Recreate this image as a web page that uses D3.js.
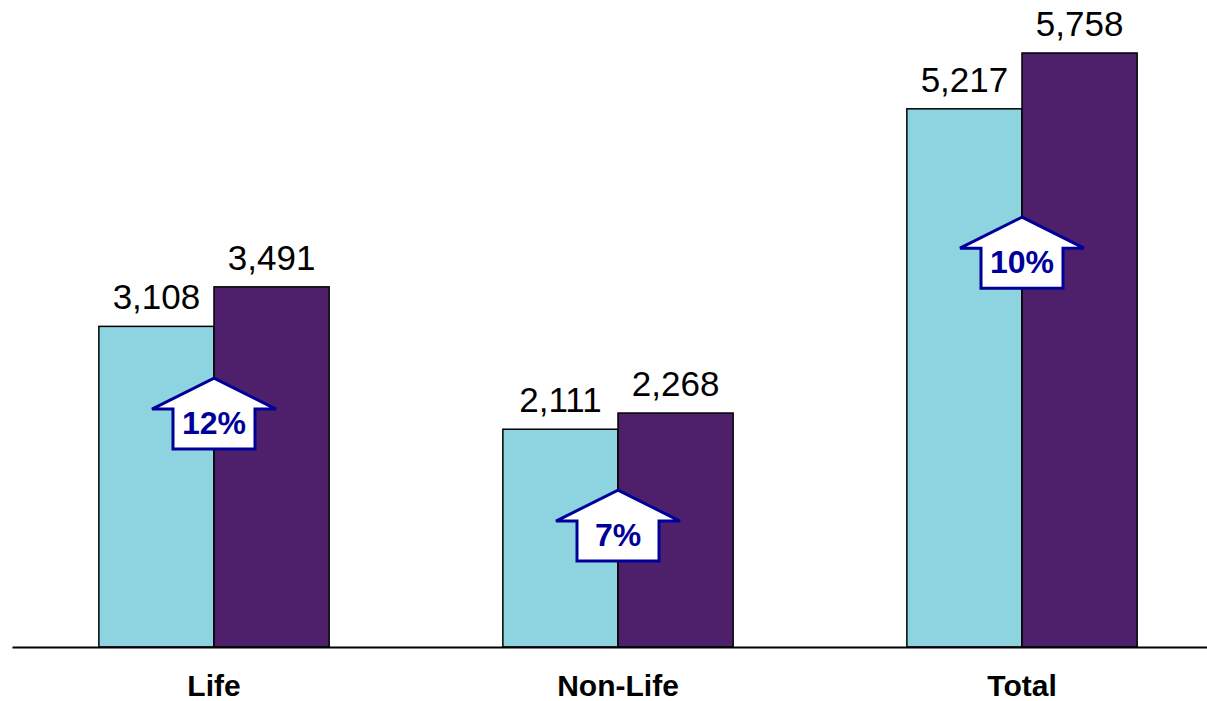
<!DOCTYPE html>
<html>
<head>
<meta charset="utf-8">
<script src="https://cdn.jsdelivr.net/npm/d3@7"></script>
<style>
  body { margin: 0; background: #fff; }
  svg { display: block; font-family: Arial, "Liberation Sans", sans-serif; }
</style>
</head>
<body>
<svg id="chart"></svg>
<script>
const width = 1207;
const height = 701;

const categories = ["Life", "Non-Life", "Total"];
const prevValues = [3108, 2111, 5217];
const currValues = [3491, 2268, 5758];
const growthLabels = ["12%", "7%", "10%"];
// where the growth arrow tip sits, in value units
const arrowAt = [2607, 1521, 4167];

const baseline = 647;
const light = "#8DD3E0";
const dark = "#4E206C";
const navy = "#000099";

const svg = d3.select("#chart")
    .attr("width", width)
    .attr("height", height)
    .attr("viewBox", [0, 0, width, height]);

const x = d3.scaleBand(categories, [12, 1224])
    .paddingInner(0.43)
    .paddingOuter(0.215);

const y = d3.scaleLinear([0, 5758], [baseline, 53]);

const half = x.bandwidth() / 2;

const groups = svg.append("g").attr("id", "bars")
  .selectAll("g")
  .data(categories)
  .join("g")
    .attr("transform", d => `translate(${x(d)},0)`);

// previous year bars
groups.append("rect")
    .attr("x", 0)
    .attr("y", (d, i) => y(prevValues[i]))
    .attr("width", half)
    .attr("height", (d, i) => baseline - y(prevValues[i]))
    .attr("fill", light)
    .attr("stroke", "#000")
    .attr("stroke-width", 1.5);

// current year bars
groups.append("rect")
    .attr("x", half)
    .attr("y", (d, i) => y(currValues[i]))
    .attr("width", half)
    .attr("height", (d, i) => baseline - y(currValues[i]))
    .attr("fill", dark)
    .attr("stroke", "#000")
    .attr("stroke-width", 1.5);

const fmt = d3.format(",");

groups.append("text")
    .attr("x", half / 2)
    .attr("y", (d, i) => y(prevValues[i]) - 17)
    .attr("text-anchor", "middle")
    .attr("font-size", "35px")
    .text((d, i) => fmt(prevValues[i]));

groups.append("text")
    .attr("x", half * 1.5)
    .attr("y", (d, i) => y(currValues[i]) - 17)
    .attr("text-anchor", "middle")
    .attr("font-size", "35px")
    .text((d, i) => fmt(currValues[i]));

// growth arrows
const headH = 31, headW = 62, shaftW = 41, totalH = 71;
const arrowPath = `M0,0 L${headW},${headH} L${shaftW},${headH} L${shaftW},${totalH}
  L${-shaftW},${totalH} L${-shaftW},${headH} L${-headW},${headH} Z`;

const arrows = groups.append("g")
    .attr("transform", (d, i) => `translate(${half},${y(arrowAt[i])})`);

arrows.append("path")
    .attr("d", arrowPath)
    .attr("fill", "#fff")
    .attr("stroke", navy)
    .attr("stroke-width", 3)
    .attr("stroke-linejoin", "miter");

arrows.append("text")
    .attr("y", 56)
    .attr("text-anchor", "middle")
    .attr("font-size", "32px")
    .attr("font-weight", "bold")
    .attr("fill", navy)
    .text((d, i) => growthLabels[i]);

// category axis
const xAxis = g => g
    .attr("transform", `translate(0,${baseline})`)
    .call(d3.axisBottom(x).tickSize(0).tickSizeOuter(0).tickPadding(28))
    .call(g => g.select(".domain").attr("stroke", "#000").attr("stroke-width", 2))
    .call(g => g.selectAll("text")
        .attr("fill", "#000")
        .attr("font-size", "30px")
        .attr("font-weight", "bold")
        .attr("font-family", "Arial, 'Liberation Sans', sans-serif"));

svg.append("g").attr("id", "xAxis").call(xAxis);
</script>
</body>
</html>
